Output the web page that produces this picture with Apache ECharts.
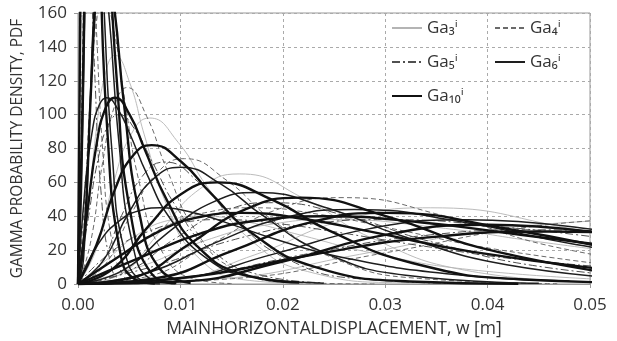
<!DOCTYPE html>
<html>
<head>
<meta charset="utf-8">
<script src="https://cdn.jsdelivr.net/npm/echarts@6/dist/echarts.min.js"></script>
<style>
  html, body { margin: 0; padding: 0; background: #fff; }
  #chart { width: 617px; height: 341px; }
</style>
</head>
<body>
<div id="chart"></div>
<script>
// axis ticks
const xTicks = [0, 0.01, 0.02, 0.03, 0.04, 0.05]
const yTicks = [0, 20, 40, 60, 80, 100, 120, 140, 160]

// curves, each one a list of [w, pdf]
const ga3Curves = [
  [[0, 0], [0.0009, 37.8], [0.0018, 91.7], [0.0027, 125], [0.0036, 135], [0.00504, 119], [0.00648, 88], [0.00864, 47], [0.01152, 17], [0.0162, 2.5], [0.022, 0.3]],
  [[0, 0], [0.00175, 20], [0.0035, 60.4], [0.00525, 89], [0.007, 98], [0.0098, 83.5], [0.0126, 57.6], [0.0168, 26.4], [0.0224, 7.4], [0.0315, 0.7], [0.042, 0]],
  [[0, 0], [0.00395, 5.1], [0.0079, 30], [0.01185, 55.9], [0.0158, 65], [0.02212, 50.3], [0.02844, 27.8], [0.03792, 8], [0.05056, 1]],
  [[0, 0], [0.0086, 1.8], [0.0172, 17.1], [0.0258, 37.3], [0.0344, 45], [0.04816, 32.7], [0.06192, 15.6]],
  [[0, 0], [0.00625, 10.6], [0.0125, 25.8], [0.01875, 35.2], [0.025, 38], [0.035, 33.4], [0.045, 24.9], [0.06, 13.3]],
  [[0, 0], [0.003, 15.4], [0.006, 29.9], [0.009, 37.8], [0.012, 40], [0.0168, 36.3], [0.0216, 29.1], [0.0288, 18.2], [0.0384, 8.4], [0.054, 2]],
  [[0, 0], [0.01375, 3], [0.0275, 17.5], [0.04125, 32.7], [0.055, 38]]
]
const ga4Curves = [
  [[0, 0], [0.00025, 64], [0.0005, 156], [0.00075, 213], [0.001, 230], [0.0014, 202], [0.0018, 150], [0.0024, 80], [0.0032, 29], [0.0045, 4.3], [0.006, 0.4]],
  [[0, 0], [0.0012, 23.7], [0.0024, 71.5], [0.0036, 105.6], [0.0048, 116], [0.00672, 98.8], [0.00864, 68.2], [0.01152, 31.2], [0.01536, 8.7], [0.0216, 0.8], [0.029, 0]],
  [[0, 0], [0.0026, 11], [0.0052, 41.4], [0.0078, 66], [0.0104, 74], [0.01456, 61], [0.01872, 39], [0.02496, 15.3], [0.03328, 3.3], [0.0468, 0.2]],
  [[0, 0], [0.006475, 4], [0.01295, 23.5], [0.019425, 43.9], [0.0259, 51], [0.03626, 39.5], [0.04662, 21.8], [0.06216, 6.3]],
  [[0, 0], [0.015, 3.1], [0.03, 18.4], [0.045, 34.4], [0.06, 40]],
  [[0, 0], [0.00425, 17.3], [0.0085, 33.7], [0.01275, 42.5], [0.017, 45], [0.0238, 40.9], [0.0306, 32.8], [0.0408, 20.5], [0.0544, 9.5]],
  [[0, 0], [0.000625, 47.6], [0.00125, 115], [0.001875, 158], [0.0025, 170], [0.0035, 150], [0.0045, 111], [0.006, 59.5], [0.008, 21.4], [0.01125, 3.1], [0.015, 0.3]]
]
const ga5Curves = [
  [[0, 0], [0.000175, 100], [0.00035, 194], [0.000525, 246], [0.0007, 260], [0.00098, 236], [0.00126, 189], [0.00168, 118], [0.00224, 55], [0.00315, 13], [0.0042, 2], [0.006, 0]],
  [[0, 0], [0.001, 38.5], [0.002, 74.8], [0.003, 94.5], [0.004, 100], [0.0056, 90.8], [0.0072, 72.8], [0.0096, 45.5], [0.0128, 21.1], [0.018, 5], [0.024, 0.8]],
  [[0, 0], [0.002125, 10.7], [0.00425, 40.3], [0.006375, 64.3], [0.0085, 72], [0.0119, 59.4], [0.0153, 38], [0.0204, 14.9], [0.0272, 3.2], [0.03825, 0.2]],
  [[0, 0], [0.00475, 7.1], [0.0095, 26.9], [0.01425, 42.9], [0.019, 48], [0.0266, 39.6], [0.0342, 25.4], [0.0456, 9.9], [0.0608, 2.1]],
  [[0, 0], [0.0075, 10.6], [0.015, 25.8], [0.0225, 35.2], [0.03, 38], [0.042, 33.4], [0.054, 24.9]],
  [[0, 0], [0.01125, 4.7], [0.0225, 17.9], [0.03375, 28.6], [0.045, 32], [0.063, 26.4]],
  [[0, 0], [0.0035, 20.1], [0.007, 31.3], [0.0105, 36.6], [0.014, 38], [0.0196, 35.6], [0.0252, 30.7], [0.0336, 22.5], [0.0448, 13.5], [0.063, 5.2]]
]
const ga6Curves = [
  [[0, 0], [0.00035, 57], [0.0007, 172], [0.00105, 255], [0.0014, 280], [0.00196, 239], [0.00252, 165], [0.00336, 75], [0.00448, 21], [0.0063, 1.9], [0.008, 0]],
  [[0, 0], [0.0007, 58], [0.0014, 90.6], [0.0021, 106], [0.0028, 110], [0.00392, 103], [0.00504, 89], [0.00672, 65], [0.00896, 39], [0.0126, 15], [0.0168, 4.4], [0.024, 0.5]],
  [[0, 0], [0.0025, 14.1], [0.005, 42.5], [0.0075, 62.8], [0.01, 69], [0.014, 58.8], [0.018, 40.6], [0.024, 18.6], [0.032, 5.2], [0.045, 0.5]],
  [[0, 0], [0.004375, 8], [0.00875, 30.2], [0.013125, 48.2], [0.0175, 54], [0.0245, 44.6], [0.0315, 28.6], [0.042, 11.2], [0.056, 2.4]],
  [[0, 0], [0.00675, 6.5], [0.0135, 24.6], [0.02025, 39.3], [0.027, 44], [0.0378, 36.3], [0.0486, 23.3], [0.0648, 9.1]],
  [[0, 0], [0.0095, 3], [0.019, 17.5], [0.0285, 32.7], [0.038, 38], [0.0532, 29.4]],
  [[0, 0], [0.002, 23.8], [0.004, 37.1], [0.006, 43.3], [0.008, 45], [0.0112, 42.2], [0.0144, 36.4], [0.0192, 26.6], [0.0256, 16], [0.036, 6.1], [0.048, 1.8]],
  [[0, 0], [0.00055, 15.6], [0.0011, 92], [0.00165, 172], [0.0022, 200], [0.00308, 155], [0.00396, 86], [0.00528, 25], [0.00704, 3.2], [0.0095, 0.2]]
]
const ga10Curves = [
  [[0, 0], [0.000225, 162], [0.00045, 314], [0.000675, 397], [0.0009, 420], [0.00126, 381], [0.00162, 306], [0.00216, 191], [0.00288, 89], [0.00405, 21], [0.0054, 3.4], [0.0075, 0.3]],
  [[0, 0], [0.0004, 92], [0.0008, 224], [0.0012, 306], [0.0016, 330], [0.00224, 290], [0.00288, 216], [0.00384, 116], [0.00512, 42], [0.0072, 6], [0.0096, 0.5]],
  [[0, 0], [0.0009, 42], [0.0018, 82], [0.0027, 104], [0.0036, 110], [0.00504, 100], [0.00648, 80], [0.00864, 50], [0.01152, 23], [0.0162, 5.5], [0.0216, 0.9]],
  [[0, 0], [0.0018, 23], [0.0036, 55.7], [0.0054, 76], [0.0072, 82], [0.01008, 72.2], [0.01296, 53.6], [0.01728, 28.7], [0.02304, 10.3], [0.0324, 1.5], [0.043, 0.1]],
  [[0, 0], [0.0034, 8.9], [0.0068, 33.6], [0.0102, 53.6], [0.0136, 60], [0.01904, 49.5], [0.02448, 31.7], [0.03264, 12.4], [0.04352, 2.7], [0.0612, 0.15]],
  [[0, 0], [0.00543, 4], [0.01085, 23.5], [0.01628, 43.9], [0.0217, 51], [0.03038, 39.5], [0.03906, 21.8], [0.05208, 6.3]],
  [[0, 0], [0.0075, 3.3], [0.015, 19.4], [0.0225, 36.1], [0.03, 42], [0.042, 32.5], [0.054, 18]],
  [[0, 0], [0.01, 1.4], [0.02, 13.3], [0.03, 29], [0.04, 35], [0.056, 25.4]],
  [[0, 0], [0.004, 16.2], [0.008, 31.4], [0.012, 39.7], [0.016, 42], [0.0224, 38.1], [0.0288, 30.6], [0.0384, 19.1], [0.0512, 8.9]],
  [[0, 0], [0.006, 15.4], [0.012, 29.9], [0.018, 37.8], [0.024, 40], [0.0336, 36.3], [0.0432, 29.1], [0.0576, 18.2]],
  [[0, 0], [0.000625, 29.6], [0.00125, 112], [0.001875, 178.6], [0.0025, 200], [0.0035, 165], [0.0045, 105.8], [0.006, 41.4], [0.008, 8.9], [0.011, 0.6]],
  [[0, 0], [0.0115, 4.6], [0.023, 17.4], [0.0345, 27.7], [0.046, 31], [0.0644, 25.6]]
]

const families = [
  { name: 'Ga₃ⁱ', curves: ga3Curves, color: '#b4b4b4', width: 0.9, type: 'solid' },
  { name: 'Ga₄ⁱ', curves: ga4Curves, color: '#6a6a6a', width: 1, type: [5, 3] },
  { name: 'Ga₅ⁱ', curves: ga5Curves, color: '#505050', width: 1, type: [8, 3, 2, 3] },
  { name: 'Ga₆ⁱ', curves: ga6Curves, color: '#1e1e1e', width: 1.5, type: 'solid' },
  { name: 'Ga₁₀ⁱ', curves: ga10Curves, color: '#111', width: 2.4, type: 'solid' }
]

const font = '"Open Sans", "DejaVu Sans", sans-serif'
const series = []
families.forEach(f => {
  f.curves.forEach(data => {
    series.push({
      name: f.name,
      type: 'line',
      data,
      symbol: 'none',
      smooth: 0.5,
      clip: true,
      color: f.color,
      lineStyle: { color: f.color, width: f.width, type: f.type }
    })
  })
})

const legendBase = {
  orient: 'vertical',
  top: 14,
  itemWidth: 30,
  itemHeight: 12,
  itemGap: 16,
  selectedMode: false,
  itemStyle: { opacity: 0 },
  textStyle: { fontFamily: font, fontSize: 17, color: '#333', lineHeight: 18 }
}

const chart = echarts.init(document.getElementById('chart'))
chart.setOption({
  animation: false,
  textStyle: { fontFamily: font },
  grid: {
    left: 78, right: 27, top: 13, bottom: 57,
    outerBoundsMode: 'none', containLabel: false,
    show: true, borderColor: '#999', borderWidth: 1
  },
  legend: [
    Object.assign({}, legendBase, { left: 386, data: ['Ga₃ⁱ', 'Ga₅ⁱ', 'Ga₁₀ⁱ'] }),
    Object.assign({}, legendBase, { left: 489, data: ['Ga₄ⁱ', 'Ga₆ⁱ'] })
  ],
  xAxis: {
    type: 'value',
    min: xTicks[0],
    max: xTicks[xTicks.length - 1],
    interval: 0.01,
    name: 'MAINHORIZONTALDISPLACEMENT, w [m]',
    nameLocation: 'middle',
    nameGap: 36,
    nameTextStyle: { fontSize: 17.5, color: '#333' },
    axisLine: { lineStyle: { color: '#999' } },
    axisTick: { show: true, length: 4, lineStyle: { color: '#999' } },
    axisLabel: { fontSize: 17, color: '#333', margin: 13, formatter: v => v.toFixed(2) },
    splitLine: { lineStyle: { color: '#aaa', type: [3, 3] } }
  },
  yAxis: {
    type: 'value',
    min: yTicks[0],
    max: yTicks[yTicks.length - 1],
    interval: 20,
    name: 'GAMMA PROBABILITY DENSITY, PDF',
    nameLocation: 'middle',
    nameGap: 52,
    nameTextStyle: { fontSize: 15.5, color: '#333' },
    axisLine: { show: true, lineStyle: { color: '#999' } },
    axisTick: { show: true, length: 4, lineStyle: { color: '#999' } },
    axisLabel: { fontSize: 17, color: '#333', margin: 11 },
    splitLine: { lineStyle: { color: '#aaa', type: [3, 3] } }
  },
  series
})
</script>
</body>
</html>
